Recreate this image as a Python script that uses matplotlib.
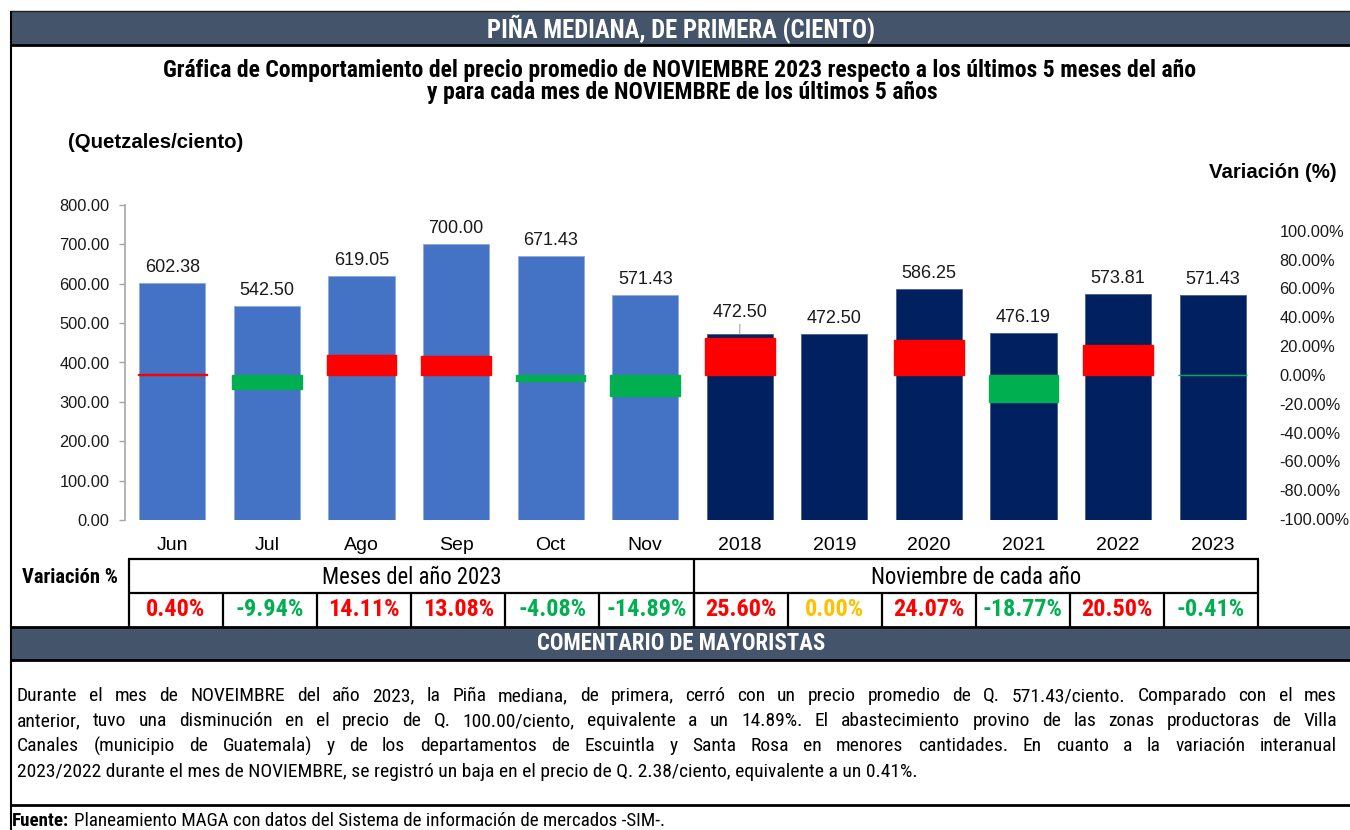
import matplotlib
matplotlib.use('Agg')
import matplotlib.pyplot as plt
from matplotlib import font_manager
from matplotlib.font_manager import FontProperties
from matplotlib.textpath import TextPath
from matplotlib.patches import Rectangle
from matplotlib.lines import Line2D
import numpy as np

# ---------------- data ----------------
categories = ['Jun', 'Jul', 'Ago', 'Sep', 'Oct', 'Nov',
              '2018', '2019', '2020', '2021', '2022', '2023']
prices = [602.38, 542.50, 619.05, 700.00, 671.43, 571.43,
          472.50, 472.50, 586.25, 476.19, 573.81, 571.43]
variations = [0.40, -9.94, 14.11, 13.08, -4.08, -14.89,
              25.60, 0.00, 24.07, -18.77, 20.50, -0.41]
groups = ['Meses del año 2023', 'Noviembre de cada año']
group_sizes = [6, 6]
price_ticks = [0, 100, 200, 300, 400, 500, 600, 700, 800]
variation_ticks = [-100, -80, -60, -40, -20, 0, 20, 40, 60, 80, 100]

header = 'PIÑA MEDIANA, DE PRIMERA (CIENTO)'
title_lines = ['Gráfica de Comportamiento del precio promedio de NOVIEMBRE 2023 respecto a los últimos 5 meses del año',
               'y para cada mes de NOVIEMBRE de los últimos 5 años']
y_label = '(Quetzales/ciento)'
y2_label = 'Variación (%)'
table_label = 'Variación %'
comment_header = 'COMENTARIO DE MAYORISTAS'
comment_lines = [
    'Durante el mes de NOVEIMBRE del año 2023, la Piña mediana, de primera, cerró con un precio promedio de Q. 571.43/ciento. Comparado con el mes',
    'anterior, tuvo una disminución en el precio de Q. 100.00/ciento, equivalente a un 14.89%. El abastecimiento provino de las zonas productoras de Villa',
    'Canales (municipio de Guatemala) y de los departamentos de Escuintla y Santa Rosa en menores cantidades. En cuanto a la variación interanual',
    '2023/2022 durante el mes de NOVIEMBRE, se registró un baja en el precio de Q. 2.38/ciento, equivalente a un 0.41%.',
]
source_bold = 'Fuente:'
source_text = 'Planeamiento MAGA con datos del Sistema de información de mercados -SIM-.'

# ---------------- style ----------------
MONTH = '#4472C4'
MONTH_EDGE = '#8FAADC'
YEAR = '#002060'
YEAR_EDGE = '#4A5F8F'
UP = '#FF0000'
DOWN = '#00B050'
ZERO = '#FFC000'
BAND = '#44546A'
AXIS_GRAY = '#A6A6A6'

W, H = 1350, 830

fonts = {}
for f in font_manager.fontManager.ttflist:
    fonts.setdefault(f.name, set()).add(f.weight if isinstance(f.weight, int) else 400)


def has_weights(name):
    ws = fonts.get(name)
    return bool(ws) and any(w >= 600 for w in ws) and any(w <= 500 for w in ws)


ARIAL = next((c for c in ['Liberation Sans', 'Arimo', 'Arial'] if has_weights(c)), 'DejaVu Sans')
NARROW = next((c for c in ['Liberation Sans Narrow', 'Arial Narrow', 'Nimbus Sans Narrow',
                           'Archivo Narrow', 'Roboto Condensed', 'PT Sans Narrow',
                           'IBM Plex Sans Condensed', 'Fira Sans Condensed']
               if has_weights(c)), ARIAL)

fig = plt.figure(figsize=(W / 100, H / 100), dpi=100, facecolor='white')
R = fig.canvas.get_renderer()


def text_width(s, size, family, weight='normal'):
    t = fig.text(0, 0, s, fontsize=size, family=family, weight=weight)
    w = t.get_window_extent(R).width
    t.remove()
    return w


def cap_px_per_pt(family, weight='normal'):
    p = TextPath((0, 0), 'H', size=100, prop=FontProperties(family=family, weight=weight))
    return p.get_extents().height / 100 * 100 / 72


def fx(px):
    return px / W


def fy(py):
    return 1 - py / H


def fit_size(s, target, family, weight='normal'):
    return 10 * target / text_width(s, 10, family, weight)


def hline(py, x0, x1, lw=1.5, color='black'):
    fig.add_artist(Line2D([fx(x0), fx(x1)], [fy(py), fy(py)], lw=lw, color=color,
                          transform=fig.transFigure, solid_capstyle='butt'))


def vline(px, y0, y1, lw=1.5, color='black'):
    fig.add_artist(Line2D([fx(px), fx(px)], [fy(y0), fy(y1)], lw=lw, color=color,
                          transform=fig.transFigure, solid_capstyle='butt'))


def band(y0, y1, x0=10, x1=W):
    fig.add_artist(Rectangle((fx(x0), fy(y1)), fx(x1) - fx(x0), fy(y0) - fy(y1),
                             transform=fig.transFigure, facecolor=BAND, edgecolor='none'))


# ---------------- frame & bands ----------------
band(11, 45)
band(627, 660)
hline(11.5, 10, W, lw=1.0, color='#222222')
hline(45, 10, W, lw=2.0)
hline(627, 10, W, lw=2.0)
hline(660, 10, W, lw=2.0)
hline(805, 10, W, lw=2.0)
vline(10.5, 11, H, lw=1.5)

s_head = fit_size(header, 386, NARROW, 'bold')
fig.text(fx(681), fy(29), header, fontsize=s_head, family=NARROW, weight='bold',
         color='white', ha='center', va='center')

s_title = fit_size(title_lines[0], 1034, NARROW, 'bold')
fig.text(fx(680), fy(70), title_lines[0], fontsize=s_title, family=NARROW, weight='bold',
         ha='center', va='center')
fig.text(fx(682), fy(93), title_lines[1], fontsize=s_title, family=NARROW, weight='bold',
         ha='center', va='center')

s_axlab = fit_size(y_label, 175, ARIAL, 'bold')
fig.text(fx(68), fy(142), y_label, fontsize=s_axlab, family=ARIAL, weight='bold',
         ha='left', va='center')
fig.text(fx(1337), fy(173), y2_label, fontsize=s_axlab, family=ARIAL, weight='bold',
         ha='right', va='center')

# ---------------- chart ----------------
x = np.arange(len(categories))
bar_colors = [MONTH] * group_sizes[0] + [YEAR] * group_sizes[1]
edge_colors = [MONTH_EDGE] * group_sizes[0] + [YEAR_EDGE] * group_sizes[1]

ax = fig.add_axes([fx(125), fy(520), (1260 - 125) / W, (520 - 205) / H])
ax.bar(x, prices, width=0.70, color=bar_colors, edgecolor=edge_colors, linewidth=0.6, zorder=2)
ax.set_xlim(-0.5, len(categories) - 0.5)
ax.set_ylim(price_ticks[0], price_ticks[-1])
ax.set_yticks(price_ticks)
ax.set_yticklabels([f'{v:.2f}' for v in price_ticks], fontsize=11.8, family=ARIAL, color='#1a1a1a')
ax.set_xticks(x)
ax.set_xticklabels(categories, fontsize=14, family=ARIAL, color='black')
ax.tick_params(axis='x', length=0, pad=12)
ax.tick_params(axis='y', length=4.3, width=1, color=AXIS_GRAY, pad=7)
for s in ['top', 'right', 'bottom']:
    ax.spines[s].set_visible(False)
ax.spines['left'].set_color(AXIS_GRAY)
ax.spines['left'].set_linewidth(1.2)
ax.patch.set_visible(False)

label_extra = {'2018': 4}
for i, (c, p) in enumerate(zip(categories, prices)):
    extra = label_extra.get(c, 0)
    kw = {}
    if extra:
        kw['arrowprops'] = dict(arrowstyle='-', color=AXIS_GRAY, lw=0.8, shrinkA=0, shrinkB=0)
    ax.annotate(f'{p:.2f}', (i, p), xytext=(0, 5 + extra), textcoords='offset points',
                ha='center', va='bottom', fontsize=13, family=ARIAL, color='#1a1a1a', **kw)

ax2 = ax.twinx()
var_colors = [UP if v > 0 else (DOWN if v < 0 else 'none') for v in variations]
var_lw = [1.0 if v != 0 else 0 for v in variations]
ax2.bar(x, variations, width=0.735, color=var_colors, edgecolor=var_colors, linewidth=var_lw, zorder=3)
ax2.set_ylim(-100.7, 117.9)
ax2.set_yticks(variation_ticks)
ax2.set_yticklabels([f'{v:.2f}%' for v in variation_ticks], fontsize=11.8, family=ARIAL, color='#1a1a1a')
ax2.tick_params(axis='y', length=0, pad=14)
for s in ax2.spines.values():
    s.set_visible(False)

# ---------------- table ----------------
T_LEFT, T_RIGHT = 129, 1258
T_TOP, T_MID, T_BOT = 559, 593, 627
cell_w = (T_RIGHT - T_LEFT) / len(categories)

s_tlab = fit_size(table_label, 96, NARROW, 'bold')
fig.text(fx(22), fy(577), table_label, fontsize=s_tlab, family=NARROW, weight='bold',
         ha='left', va='center')

hline(T_TOP, T_LEFT - 1, T_RIGHT + 1, lw=1.6)
hline(T_MID, T_LEFT, T_RIGHT, lw=1.6)
vline(T_LEFT, T_TOP, T_BOT, lw=1.6)
vline(T_RIGHT, T_TOP, T_BOT, lw=1.6)

s_group = fit_size(groups[0], 178, NARROW)
start = 0
for g, n in zip(groups, group_sizes):
    x0 = T_LEFT + start * cell_w
    x1 = T_LEFT + (start + n) * cell_w
    fig.text(fx((x0 + x1) / 2), fy(577), g, fontsize=s_group, family=NARROW,
             ha='center', va='center')
    if start > 0:
        vline(x0, T_TOP, T_BOT, lw=1.6)
    start += n

val_labels = [f'{v:.2f}%' for v in variations]
s_val = fit_size(max(val_labels, key=len), 81, NARROW, 'bold')
for i, (lab, v) in enumerate(zip(val_labels, variations)):
    if i > 0:
        vline(T_LEFT + i * cell_w, T_MID, T_BOT, lw=1.6)
    col = UP if v > 0 else (DOWN if v < 0 else ZERO)
    fig.text(fx(T_LEFT + (i + 0.5) * cell_w), fy(609), lab, fontsize=s_val, family=NARROW,
             weight='bold', color=col, ha='center', va='center')

# ---------------- comment ----------------
s_comm = fit_size(comment_header, 288, NARROW, 'bold')
fig.text(fx(681), fy(643), comment_header, fontsize=s_comm, family=NARROW, weight='bold',
         color='white', ha='center', va='center')

# body size: compromise between the width of the unjustified last line (~825 px)
# and the glyph height of the reference (cap height ~15.3 px)
s_para = 0.6 * fit_size(comment_lines[-1], 825, NARROW) + 0.4 * 15.3 / cap_px_per_pt(NARROW)
PX_L, PX_R = 17, 1337
for i, line in enumerate(comment_lines):
    py = 701 + i * 25.2
    if i < len(comment_lines) - 1:
        words = line.split(' ')
        ts = [fig.text(0, fy(py), wd, fontsize=s_para, family=NARROW, ha='left', va='baseline')
              for wd in words]
        widths = [t.get_window_extent(R).width for t in ts]
        gap = (PX_R - PX_L - sum(widths)) / (len(words) - 1)
        xp = PX_L
        for t, wd in zip(ts, widths):
            t.set_x(fx(xp))
            xp += wd + gap
    else:
        fig.text(fx(PX_L), fy(py), line, fontsize=s_para, family=NARROW, ha='left', va='baseline')

# ---------------- source ----------------
s_src = fit_size(source_text, 590, NARROW)
tb = fig.text(fx(12), fy(821), source_bold, fontsize=s_src, family=NARROW, weight='bold',
              ha='left', va='center')
wb = tb.get_window_extent(R).width
wsp = text_width('a a', s_src, NARROW) - text_width('aa', s_src, NARROW)
fig.text(fx(12 + wb + wsp), fy(821), source_text, fontsize=s_src, family=NARROW,
         ha='left', va='center')

fig.savefig('out.png', dpi=100, facecolor='white')
